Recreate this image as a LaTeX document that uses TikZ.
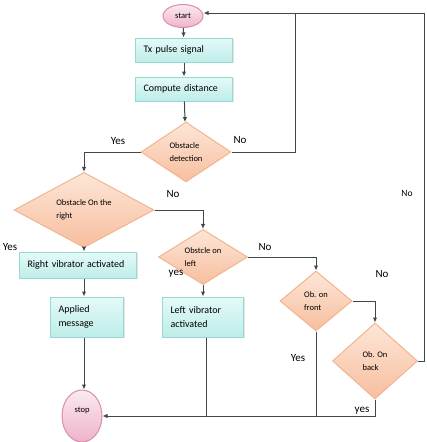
\documentclass[tikz,border=0pt]{standalone}
\usepackage{fontspec}
\setmainfont{Carlito}
\usetikzlibrary{arrows.meta, positioning, shapes.geometric, shadows}
\definecolor{boxtop}{HTML}{E4FAF8}
\definecolor{boxbot}{HTML}{BDEDE9}
\definecolor{boxline}{HTML}{98D8D3}
\definecolor{dectop}{HTML}{FDE6D8}
\definecolor{decbot}{HTML}{F7BE9E}
\definecolor{decline}{HTML}{F3B490}
\definecolor{termtop}{HTML}{FBEAF1}
\definecolor{termbot}{HTML}{EFB2CB}
\definecolor{termline}{HTML}{D98DAD}
\definecolor{wire}{HTML}{3E4848}
\tikzset{
  box/.style={rectangle,draw=boxline,top color=boxtop,bottom color=boxbot,align=left,
    inner xsep=8pt,inner ysep=2pt,font=\fontsize{10}{14}\selectfont,
    drop shadow={opacity=0.2,shadow xshift=1pt,shadow yshift=-1pt}},
  decision/.style={diamond,draw=decline,top color=dectop,bottom color=decbot,align=left,
    inner sep=0pt,font=\fontsize{8.5}{12.5}\selectfont},
  term/.style={ellipse,draw=termline,top color=termtop,bottom color=termbot,
    inner sep=0pt,font=\fontsize{8.5}{10}\selectfont},
  tag/.style={inner sep=0pt,font=\fontsize{11}{13}\selectfont},
  line/.style={-{Latex[length=5pt,width=4.5pt]}}
}

\begin{document}
\begin{tikzpicture}[x=1pt,y=-1pt,draw=wire,line width=1pt]
\useasboundingbox (0,0) rectangle (427,442);
% main column
\node[term, minimum width=40pt, minimum height=23pt] (start) at (183,16) {start};
\node[box, text width=81pt, minimum height=24pt] (tx) at (184,50) {Tx pulse signal};
\node[box, text width=81pt, minimum height=24pt] (dist) at (184,89) {Compute distance};
\node[decision, minimum width=90pt, minimum height=60pt] (detect) at (186,152) {Obstacle\\detection};
% left branch
\node[decision, minimum width=140pt, minimum height=56pt] (onright) at (84,210) {Obstacle On the\\right};
\node[box, text width=101pt, minimum height=26pt] (rvib) at (78,265) {Right vibrator activated};
\node[box, text width=57pt, minimum height=40pt] (msg) at (87,317) {Applied\\message};
\node[term, minimum width=40pt, minimum height=52pt, text height=6pt, text depth=14pt] (stop) at (82,416) {stop};
% right side checks
\node[decision, minimum width=89pt, minimum height=54pt] (onleft) at (203,257) {Obstcle on\\left};
\node[box, text width=65pt, minimum height=40pt] (lvib) at (203,317) {Left vibrator\\activated};
\node[decision, minimum width=72pt, minimum height=60pt] (front) at (316,301) {Ob. on\\front};
\node[decision, minimum width=85pt, minimum height=76pt] (back) at (375,361) {Ob. On\\back};
\coordinate (loopa) at (295,13);
\coordinate (loopb) at (424,13);

\draw[line] (start) -- (tx);
\draw[line] (tx) -- (dist);
\draw[line] (dist) -- (detect);
\draw[line] (detect.west) -| (onright.north);
\draw[line] (detect.east) -| (loopa) -- (loopa -| start.east);
\draw (back.east) -| (loopb) -- (loopa);
\draw[line] (onright.south) -- (onright.south |- rvib.north);
\draw[line] (onright.south |- rvib.south) -- (onright.south |- msg.north);
\draw[line] (onright.south |- msg.south) -- (onright.south |- stop.north);
\draw[line] (onright.east) -| (onleft.north);
\draw[line] (onleft.south) -- (lvib.north);
\draw[line] (onleft.east) -| (front.north);
\draw[line] (front.east) -| (back.north);
\draw[line] (back.south) |- (stop.east);
\draw (front.south) -- (front.south |- stop.east);
\draw ([xshift=3pt]lvib.south) -- ([xshift=3pt]lvib.south |- stop.east);

\node[tag] (yes1) at (118,141) {Yes};
\node[tag] (no1) at (240,140) {No};
\node[tag] (no2) at (173,194) {No};
\node[tag] (yes2) at (10,247) {Yes};
\node[tag] (yes3) at (176,274) {yes};
\node[tag] (no3) at (265,247) {No};
\node[tag] (no4) at (382,274) {No};
\node[tag, font=\fontsize{9.5}{11}\selectfont] (no5) at (407,193) {No};
\node[tag] (yes4) at (298,358) {Yes};
\node[tag] (yes5) at (362,411) {yes};
\end{tikzpicture}
\end{document}
